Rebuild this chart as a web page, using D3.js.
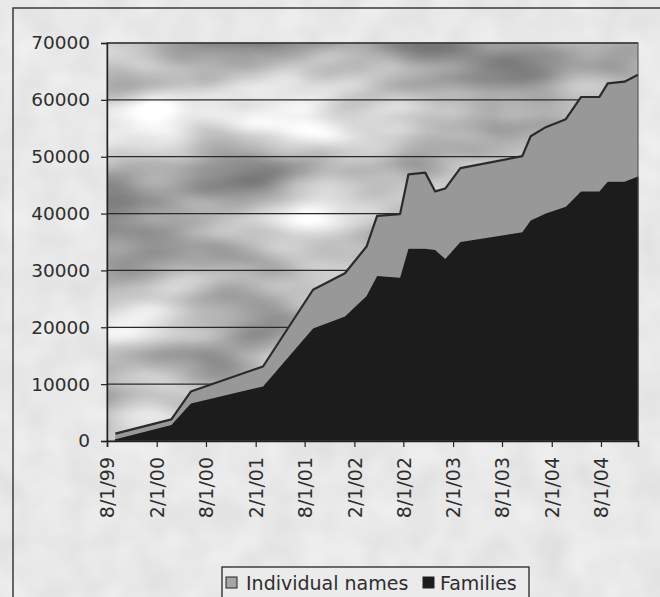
<!DOCTYPE html>
<html>
<head>
<meta charset="utf-8">
<script src="https://cdn.jsdelivr.net/npm/d3@7/dist/d3.min.js"></script>
<style>
  html, body { margin: 0; padding: 0; background: #e9e9e9; }
  svg { display: block; }
  text { font-family: "DejaVu Sans", Verdana, sans-serif; fill: #2e2e2e; }
</style>
</head>
<body>
<svg id="chart" width="660" height="597"></svg>
<script>
// ---- data ----
const dates = [
  "1999-09-01", "2000-03-26", "2000-06-06", "2001-02-28", "2001-09-01",
  "2001-12-28", "2002-03-18", "2002-04-26", "2002-07-20", "2002-08-20",
  "2002-10-21", "2002-11-27", "2003-01-03", "2003-02-28", "2003-10-15",
  "2003-11-15", "2004-01-10", "2004-03-24", "2004-05-19", "2004-07-26",
  "2004-08-26", "2004-10-27", "2004-12-16"
];
const families = [
  300, 2800, 6600, 9600, 19800,
  21900, 25500, 29000, 28700, 33800,
  33800, 33600, 32000, 35000, 36700,
  38800, 40000, 41200, 43900, 43900,
  45600, 45600, 46500
];
const individualNames = [
  1000, 1000, 2100, 3500, 6800,
  7600, 8700, 10600, 11200, 13100,
  13400, 10300, 12400, 13000, 13400,
  14800, 15200, 15400, 16600, 16600,
  17300, 17600, 17900
];
const seriesNames = ["Individual names", "Families"];
const yTicks = [0, 10000, 20000, 30000, 40000, 50000, 60000, 70000];
const xTickDates = [
  "1999-08-01", "2000-02-01", "2000-08-01", "2001-02-01", "2001-08-01",
  "2002-02-01", "2002-08-01", "2003-02-01", "2003-08-01", "2004-02-01", "2004-08-01"
];

// ---- setup ----
const parse = d3.timeParse("%Y-%m-%d");
const fmt = d3.timeFormat("%-m/%-d/%y");
const rows = dates.map((d, i) => ({
  date: parse(d),
  Families: families[i],
  "Individual names": individualNames[i]
}));

const svg = d3.select("#chart");
const L = 107, R = 638, T = 43, B = 441;

const x = d3.scaleTime()
  .domain([parse("1999-08-01"), parse(dates[dates.length - 1])])
  .range([L, R]);
const y = d3.scaleLinear().domain([0, 70000]).range([B, T]);

// defs: cloudy background texture
const defs = svg.append("defs");
const f = defs.append("filter").attr("id", "clouds")
  .attr("x", 0).attr("y", 0).attr("width", "100%").attr("height", "100%")
  .attr("color-interpolation-filters", "sRGB");
f.append("feTurbulence").attr("type", "fractalNoise")
  .attr("baseFrequency", "0.005 0.013").attr("numOctaves", 3).attr("seed", 11);
f.append("feColorMatrix").attr("type", "matrix")
  .attr("values", "0.95 0 0 0 0.24  0.95 0 0 0 0.24  0.95 0 0 0 0.24  0 0 0 0 1");

const paper = defs.append("filter").attr("id", "paper")
  .attr("x", 0).attr("y", 0).attr("width", "100%").attr("height", "100%")
  .attr("color-interpolation-filters", "sRGB");
paper.append("feTurbulence").attr("type", "fractalNoise")
  .attr("baseFrequency", "0.03").attr("numOctaves", 2).attr("seed", 3);
paper.append("feColorMatrix").attr("type", "matrix")
  .attr("values", "0.08 0 0 0 0.87  0.08 0 0 0 0.87  0.08 0 0 0 0.87  0 0 0 0 1");

// paper background + outer chart border
svg.append("rect").attr("x", 0).attr("y", 0).attr("width", 660).attr("height", 597)
  .attr("filter", "url(#paper)");
svg.append("rect").attr("x", 13).attr("y", 8).attr("width", 700).attr("height", 700)
  .attr("fill", "none").attr("stroke", "#3a3a3a").attr("stroke-width", 1.5);

// plot area background
svg.append("rect").attr("x", L).attr("y", T).attr("width", R - L).attr("height", B - T)
  .attr("filter", "url(#clouds)");

// gridlines
svg.append("g").selectAll("line").data(yTicks.filter(v => v > 0)).join("line")
  .attr("x1", L).attr("x2", R).attr("y1", d => y(d)).attr("y2", d => y(d))
  .attr("stroke", "#2a2a2a").attr("stroke-width", 1.3);

// stacked areas
const stack = d3.stack().keys(["Families", "Individual names"]);
const layers = stack(rows);
const area = d3.area()
  .x(d => x(d.data.date))
  .y0(d => y(d[0]))
  .y1(d => y(d[1]));
const fills = { "Families": "#1c1c1c", "Individual names": "#989898" };
svg.append("g").selectAll("path").data(layers).join("path")
  .attr("d", area)
  .attr("fill", d => fills[d.key])
  .attr("stroke", d => d.key === "Families" ? "#1c1c1c" : "none")
  .attr("stroke-width", 1);

// dark outline on top of the total
const topLine = d3.line().x(d => x(d.data.date)).y(d => y(d[1]));
svg.append("path").datum(layers[1]).attr("d", topLine)
  .attr("fill", "none").attr("stroke", "#2b2b2b").attr("stroke-width", 2.2)
  .attr("stroke-linejoin", "round");

// plot border
svg.append("rect").attr("x", L).attr("y", T).attr("width", R - L).attr("height", B - T)
  .attr("fill", "none").attr("stroke", "#4a4a4a").attr("stroke-width", 1);

// y axis
const yAxis = svg.append("g").attr("transform", `translate(${L},0)`)
  .call(d3.axisLeft(y).tickValues(yTicks).tickSize(6).tickPadding(11).tickFormat(d3.format("d")));
yAxis.select(".domain").attr("stroke", "#222").attr("stroke-width", 1.4);
yAxis.selectAll(".tick line").attr("stroke", "#222").attr("stroke-width", 1.2);
yAxis.selectAll(".tick text")
  .style("font-family", '"DejaVu Sans", Verdana, sans-serif')
  .style("font-size", "18.5px").attr("fill", "#2e2e2e");

// x axis
const xAxis = svg.append("g").attr("transform", `translate(0,${B})`)
  .call(d3.axisBottom(x).tickValues(xTickDates.map(parse)).tickSize(6).tickFormat(fmt));
xAxis.select(".domain").attr("stroke", "#222").attr("stroke-width", 1.6);
xAxis.selectAll(".tick line").attr("stroke", "#222").attr("stroke-width", 1.2);
xAxis.selectAll(".tick text")
  .style("font-family", '"DejaVu Sans", Verdana, sans-serif')
  .style("font-size", "19px").attr("fill", "#2e2e2e")
  .attr("text-anchor", "end")
  .attr("transform", "rotate(-90)")
  .attr("x", -16).attr("y", 0).attr("dy", "0.36em");

// legend
const lg = svg.append("g");
lg.append("rect").attr("x", 222).attr("y", 567).attr("width", 307).attr("height", 45)
  .attr("fill", "#ebebeb").attr("stroke", "#333").attr("stroke-width", 1.4);
const legendFill = { "Individual names": "#a6a6a6", "Families": "#1c1c1c" };
const legendX = [226, 423];
const textX = [246, 440];
seriesNames.forEach((n, i) => {
  lg.append("rect").attr("x", legendX[i]).attr("y", 577).attr("width", 11).attr("height", 11)
    .attr("fill", legendFill[n]).attr("stroke", "#222").attr("stroke-width", 1);
  lg.append("text").attr("x", textX[i]).attr("y", 589.5)
    .style("font-size", "19px").text(n);
});
</script>
</body>
</html>
